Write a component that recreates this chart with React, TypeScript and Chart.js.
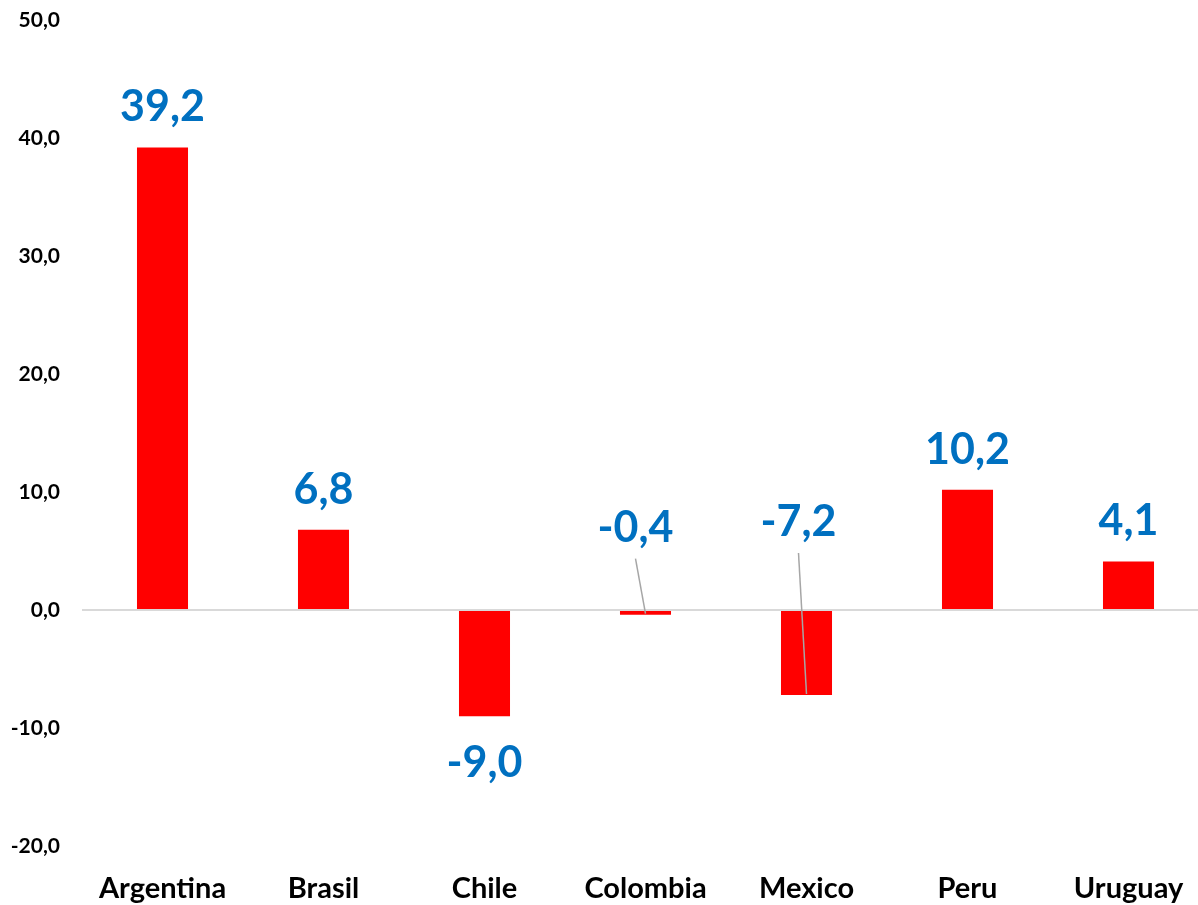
import React, { useEffect, useRef } from 'react';
import { Chart, registerables } from 'chart.js';

Chart.register(...registerables);

const categories = ['Argentina', 'Brasil', 'Chile', 'Colombia', 'Mexico', 'Peru', 'Uruguay'];
const values = [39.2, 6.8, -9.0, -0.4, -7.2, 10.2, 4.1];
const yMin = -20;
const yMax = 50;
const yStep = 10;

const fmt = (v: number) => v.toFixed(1).replace('.', ',');

// callout labels (offset from bar end, with leader line)
const callouts: Record<number, { dx: number; dy: number }> = {
  3: { dx: -10, dy: -87 },
  4: { dx: -8, dy: -173 },
};

const dataLabels = {
  id: 'dataLabels',
  afterDatasetsDraw(chart: any) {
    const ctx = chart.ctx as CanvasRenderingContext2D;
    const meta = chart.getDatasetMeta(0);
    ctx.save();
    ctx.font = 'bold 43px Lato';
    ctx.textAlign = 'center';
    ctx.textBaseline = 'middle';
    meta.data.forEach((bar: any, i: number) => {
      const v = values[i];
      const x = bar.x;
      const y = bar.y;
      let lx: number;
      let ly: number;
      const c = callouts[i];
      if (c) {
        lx = x + c.dx;
        ly = y + c.dy;
        ctx.strokeStyle = '#a6a6a6';
        ctx.lineWidth = 1.5;
        ctx.beginPath();
        ctx.moveTo(lx, ly + 31);
        ctx.lineTo(x, y - 1);
        ctx.stroke();
      } else {
        lx = x;
        ly = v >= 0 ? y - 40 : y + 47;
      }
      ctx.fillStyle = '#0070C0';
      ctx.fillText(fmt(v), lx, ly);
    });
    ctx.restore();
  },
};

export default function App() {
  const ref = useRef<HTMLCanvasElement | null>(null);

  useEffect(() => {
    if (!ref.current) return;
    const chart = new Chart(ref.current, {
      type: 'bar',
      data: {
        labels: categories,
        datasets: [
          {
            data: values,
            backgroundColor: '#FF0000',
            borderWidth: 0,
            categoryPercentage: 1,
            barPercentage: 0.317,
          },
        ],
      },
      options: {
        responsive: false,
        animation: false,
        devicePixelRatio: 1,
        layout: { padding: { top: 20, left: 0, right: 0, bottom: 0 } },
        plugins: {
          legend: { display: false },
          tooltip: { enabled: false },
        },
        scales: {
          x: {
            grid: { display: false },
            border: { display: false },
            ticks: {
              color: '#000000',
              padding: 17,
              font: { family: 'Lato', size: 29, weight: 'bold' },
            },
            afterFit: (scale: any) => {
              scale.height = 59;
            },
          },
          y: {
            min: yMin,
            max: yMax,
            border: { display: false },
            grid: {
              drawTicks: false,
              lineWidth: 2,
              color: (ctx: any) => (ctx.tick && ctx.tick.value === 0 ? '#d9d9d9' : 'rgba(0,0,0,0)'),
            },
            ticks: {
              stepSize: yStep,
              color: '#000000',
              padding: 22,
              font: { family: 'Lato', size: 21, weight: 'bold' },
              callback: (v: any) => fmt(Number(v)),
            },
            afterFit: (scale: any) => {
              scale.width = 82;
              scale.paddingTop = 0;
              scale.paddingBottom = 0;
            },
          },
        },
      },
      plugins: [dataLabels],
    });
    return () => chart.destroy();
  }, []);

  return (
    <div
      style={{
        position: 'fixed',
        left: 0,
        top: 0,
        width: 1198,
        height: 905,
        overflow: 'hidden',
        background: '#ffffff',
      }}
    >
      <canvas ref={ref} width={1209} height={905} style={{ display: 'block' }} />
    </div>
  );
}
